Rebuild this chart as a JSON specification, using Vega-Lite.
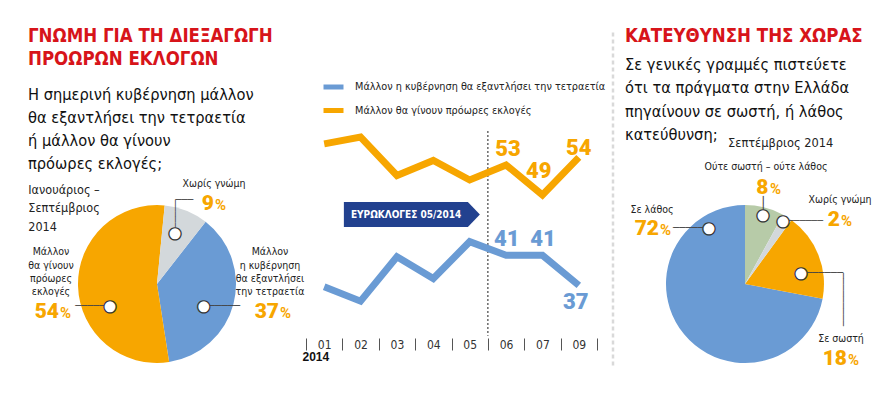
{
  "$schema": "https://vega.github.io/schema/vega-lite/v6.json",
  "background": "white",
  "padding": {"left": 8, "top": 26, "right": 2, "bottom": 2},
  "bounds": "flush",
  "spacing": 0,
  "resolve": {"scale": {"color": "independent", "theta": "independent"}, "legend": {"color": "independent"}},
  "config": {
    "view": {"stroke": null},
    "text": {"font": "Liberation Sans Narrow, DejaVu Sans Condensed, sans-serif"}
  },
  "datasets": {
    "gov": [
      {"key": "gov", "category": "Μάλλον η κυβέρνηση θα εξαντλήσει την τετραετία", "label": "Μάλλον\nη κυβέρνηση\nθα εξαντλήσει\nτην τετραετία", "value": 37},
      {"key": "early", "category": "Μάλλον θα γίνουν πρόωρες εκλογές", "label": "Μάλλον\nθα γίνουν\nπρόωρες\nεκλογές", "value": 54},
      {"key": "none", "category": "Χωρίς γνώμη", "label": "Χωρίς γνώμη", "value": 9}
    ],
    "dir": [
      {"key": "wrong", "category": "Σε λάθος", "value": 72},
      {"key": "right", "category": "Σε σωστή", "value": 18},
      {"key": "neither", "category": "Ούτε σωστή – ούτε λάθος", "value": 8},
      {"key": "none", "category": "Χωρίς γνώμη", "value": 2}
    ],
    "trend": [
      {"month": "01", "series": "Μάλλον η κυβέρνηση θα εξαντλήσει την τετραετία", "value": 36.8},
      {"month": "02", "series": "Μάλλον η κυβέρνηση θα εξαντλήσει την τετραετία", "value": 34.9},
      {"month": "03", "series": "Μάλλον η κυβέρνηση θα εξαντλήσει την τετραετία", "value": 40.8},
      {"month": "04", "series": "Μάλλον η κυβέρνηση θα εξαντλήσει την τετραετία", "value": 37.9},
      {"month": "05", "series": "Μάλλον η κυβέρνηση θα εξαντλήσει την τετραετία", "value": 42.8},
      {"month": "06", "series": "Μάλλον η κυβέρνηση θα εξαντλήσει την τετραετία", "value": 41},
      {"month": "07", "series": "Μάλλον η κυβέρνηση θα εξαντλήσει την τετραετία", "value": 41},
      {"month": "09", "series": "Μάλλον η κυβέρνηση θα εξαντλήσει την τετραετία", "value": 37},
      {"month": "01", "series": "Μάλλον θα γίνουν πρόωρες εκλογές", "value": 55.8},
      {"month": "02", "series": "Μάλλον θα γίνουν πρόωρες εκλογές", "value": 56.7},
      {"month": "03", "series": "Μάλλον θα γίνουν πρόωρες εκλογές", "value": 51.6},
      {"month": "04", "series": "Μάλλον θα γίνουν πρόωρες εκλογές", "value": 53.6},
      {"month": "05", "series": "Μάλλον θα γίνουν πρόωρες εκλογές", "value": 51},
      {"month": "06", "series": "Μάλλον θα γίνουν πρόωρες εκλογές", "value": 53},
      {"month": "07", "series": "Μάλλον θα γίνουν πρόωρες εκλογές", "value": 49},
      {"month": "09", "series": "Μάλλον θα γίνουν πρόωρες εκλογές", "value": 54}
    ]
  },
  "hconcat": [
    {
      "width": 298,
      "height": 208,
      "data": {"name": "gov"},
      "title": {
        "text": ["ΓΝΩΜΗ ΓΙΑ ΤΗ ΔΙΕΞΑΓΩΓΗ", "ΠΡΟΩΡΩΝ ΕΚΛΟΓΩΝ"],
        "subtitle": ["Η σημερινή κυβέρνηση μάλλον", "θα εξαντλήσει την τετραετία", "ή μάλλον θα γίνουν", "πρόωρες εκλογές;"],
        "anchor": "start", "frame": "group", "dx": 20, "dy": -5, "offset": 1.5,
        "font": "Liberation Sans Narrow, DejaVu Sans Condensed, sans-serif", "fontSize": 18.5, "fontWeight": "bold", "color": "#d7141a", "lineHeight": 23.3,
        "subtitleFont": "Liberation Sans Narrow, DejaVu Sans Condensed, sans-serif", "subtitleFontSize": 16.3, "subtitleColor": "#111", "subtitleLineHeight": 23.2, "subtitlePadding": 18.6
      },
      "layer": [
        {
          "mark": {"type": "arc", "outerRadius": 79},
          "encoding": {
            "theta": {"field": "value", "type": "quantitative", "stack": true, "scale": {"range": [0.6629, 6.9461]}},
            "order": {"field": "category", "type": "nominal", "sort": "ascending"},
            "color": {"field": "category", "type": "nominal", "legend": null,
              "scale": {"domain": ["Μάλλον η κυβέρνηση θα εξαντλήσει την τετραετία", "Μάλλον θα γίνουν πρόωρες εκλογές", "Χωρίς γνώμη"], "range": ["#6a9bd4", "#f7a600", "#d3d8db"]}}
          }
        },
        {
          "data": {"values": [{"period": "Ιανουάριος –\nΣεπτέμβριος\n2014"}]},
          "mark": {"type": "text", "lineBreak": "\n", "align": "left", "baseline": "top", "dx": -128.7, "dy": -100, "fontSize": 12.5, "lineHeight": 18.3, "color": "#222"},
          "encoding": {"text": {"field": "period"}}
        },
        {"transform": [{"filter": "datum.key == 'gov'"}], "mark": {"type": "text", "lineBreak": "\n", "align": "center", "baseline": "top", "dx": 113, "dy": -36.7, "fontSize": 10.5, "lineHeight": 13.3, "color": "#222"}, "encoding": {"text": {"field": "label"}}},
        {"transform": [{"filter": "datum.key == 'early'"}], "mark": {"type": "text", "lineBreak": "\n", "align": "center", "baseline": "top", "dx": -106, "dy": -36.7, "fontSize": 10.5, "lineHeight": 13.3, "color": "#222"}, "encoding": {"text": {"field": "label"}}},
        {"transform": [{"filter": "datum.key == 'none'"}], "mark": {"type": "text", "align": "center", "baseline": "top", "dx": 57, "dy": -104.7, "fontSize": 10.5, "color": "#222"}, "encoding": {"text": {"field": "label"}}},
        {"transform": [{"filter": "datum.key == 'gov'"}], "mark": {"type": "text", "font": "Roboto", "fontWeight": 900, "fontSize": 21, "align": "right", "baseline": "alphabetic", "dx": 122, "dy": 34, "color": "#f7a600"}, "encoding": {"text": {"field": "value", "type": "quantitative", "format": "d"}}},
        {"transform": [{"filter": "datum.key == 'gov'"}], "mark": {"type": "text", "font": "Roboto", "fontWeight": "bold", "fontSize": 15, "align": "left", "baseline": "alphabetic", "dx": 123, "dy": 34, "color": "#f7a600"}, "encoding": {"text": {"value": "%"}}},
        {"transform": [{"filter": "datum.key == 'early'"}], "mark": {"type": "text", "font": "Roboto", "fontWeight": 900, "fontSize": 21, "align": "right", "baseline": "alphabetic", "dx": -98, "dy": 34, "color": "#f7a600"}, "encoding": {"text": {"field": "value", "type": "quantitative", "format": "d"}}},
        {"transform": [{"filter": "datum.key == 'early'"}], "mark": {"type": "text", "font": "Roboto", "fontWeight": "bold", "fontSize": 15, "align": "left", "baseline": "alphabetic", "dx": -97, "dy": 34, "color": "#f7a600"}, "encoding": {"text": {"value": "%"}}},
        {"transform": [{"filter": "datum.key == 'none'"}], "mark": {"type": "text", "font": "Roboto", "fontWeight": 900, "fontSize": 21, "align": "right", "baseline": "alphabetic", "dx": 57, "dy": -74, "color": "#f7a600"}, "encoding": {"text": {"field": "value", "type": "quantitative", "format": "d"}}},
        {"transform": [{"filter": "datum.key == 'none'"}], "mark": {"type": "text", "font": "Roboto", "fontWeight": "bold", "fontSize": 15, "align": "left", "baseline": "alphabetic", "dx": 58, "dy": -74, "color": "#f7a600"}, "encoding": {"text": {"value": "%"}}},
        {"transform": [{"filter": "datum.key == 'early'"}], "mark": {"type": "text", "font": "DejaVu Sans Mono", "fontSize": 10, "align": "center", "baseline": "middle", "dx": -66.7, "dy": 22, "color": "#444"}, "encoding": {"text": {"value": "─────"}}},
        {"transform": [{"filter": "datum.key == 'gov'"}], "mark": {"type": "text", "font": "DejaVu Sans Mono", "fontSize": 10.5, "align": "center", "baseline": "middle", "dx": 67.3, "dy": 22, "color": "#444"}, "encoding": {"text": {"value": "─────"}}},
        {"transform": [{"filter": "datum.key == 'none'"}], "mark": {"type": "text", "font": "DejaVu Sans Mono", "fontSize": 9.3, "angle": 90, "align": "center", "baseline": "middle", "dx": -70, "dy": -18.3, "color": "#444"}, "encoding": {"text": {"value": "─────"}}},
        {"transform": [{"filter": "datum.key == 'none'"}], "mark": {"type": "text", "font": "DejaVu Sans Mono", "fontSize": 10, "align": "center", "baseline": "middle", "dx": 27.3, "dy": -84, "color": "#444"}, "encoding": {"text": {"value": "───"}}},
        {"transform": [{"filter": "datum.key == 'gov'"}], "mark": {"type": "text", "font": "DejaVu Sans", "fontSize": 16, "fill": "white", "stroke": "#333", "strokeWidth": 1.2, "align": "center", "baseline": "middle", "dx": 46.7, "dy": 22}, "encoding": {"text": {"value": "●"}}},
        {"transform": [{"filter": "datum.key == 'early'"}], "mark": {"type": "text", "font": "DejaVu Sans", "fontSize": 16, "fill": "white", "stroke": "#333", "strokeWidth": 1.2, "align": "center", "baseline": "middle", "dx": -47, "dy": 22}, "encoding": {"text": {"value": "●"}}},
        {"transform": [{"filter": "datum.key == 'none'"}], "mark": {"type": "text", "font": "DejaVu Sans", "fontSize": 16, "fill": "white", "stroke": "#333", "strokeWidth": 1.2, "align": "center", "baseline": "middle", "dx": 18, "dy": -51}, "encoding": {"text": {"value": "●"}}}
      ]
    },
    {
      "width": 307,
      "height": 158,
      "resolve": {"axis": {"x": "independent", "y": "independent"}},
      "layer": [
        {
          "data": {"values": [{"edge": "separator"}]},
          "mark": {"type": "rule", "color": "#d9d9d9", "strokeWidth": 2.5, "strokeDash": [4, 3]},
          "encoding": {"x": {"value": "width"}, "y": {"datum": 70.6, "type": "quantitative", "axis": null}, "y2": {"datum": 26.3}}
        },
        {
          "data": {"values": [{"month": "06"}]},
          "mark": {"type": "rule", "color": "#444", "strokeWidth": 1.2, "strokeDash": [2, 2]},
          "encoding": {"x": {"field": "month", "type": "ordinal", "bandPosition": 0, "axis": null}, "y": {"datum": 57.5, "type": "quantitative", "axis": null}, "y2": {"datum": 30.3}}
        },
        {
          "data": {"name": "trend"},
          "mark": {"type": "line", "strokeWidth": 7, "strokeJoin": "miter", "strokeCap": "butt"},
          "encoding": {
            "x": {"field": "month", "type": "ordinal",
              "scale": {"type": "band", "paddingInner": 0, "paddingOuter": 0, "range": [0, 291]},
              "axis": {"title": "2014", "titleAnchor": "start", "titleAlign": "left", "titleX": -4, "titleFontWeight": "bold", "titleFont": "Liberation Sans", "titleFontSize": 12, "titleColor": "#111", "titlePadding": 1,
                "labelAngle": 0, "labelFont": "Liberation Sans Narrow, DejaVu Sans Condensed, sans-serif", "labelFontSize": 12, "labelColor": "#333", "labelPadding": -11, "labelBaseline": "top",
                "tickBand": "extent", "tickSize": 12, "tickColor": "#555", "tickWidth": 1, "domain": false, "grid": false}},
            "y": {"field": "value", "type": "quantitative", "scale": {"domain": [30, 51], "zero": false, "nice": false}, "axis": null},
            "color": {"field": "series", "type": "nominal",
              "scale": {"domain": ["Μάλλον η κυβέρνηση θα εξαντλήσει την τετραετία", "Μάλλον θα γίνουν πρόωρες εκλογές"], "range": ["#6a9bd4", "#f7a600"]},
              "legend": {"orient": "none", "legendX": 15, "legendY": -105.5, "direction": "vertical", "title": null, "symbolType": "stroke", "symbolStrokeWidth": 5, "symbolSize": 400, "labelFont": "Liberation Sans Narrow, DejaVu Sans Condensed, sans-serif", "labelFontSize": 10.8, "labelColor": "#222", "rowPadding": 0.5, "padding": 0, "labelOffset": 9, "labelLimit": 400}}
          }
        },
        {
          "data": {"values": [{"month": "06", "label": "ΕΥΡΩΚΛΟΓΕΣ 05/2014"}]},
          "mark": {"type": "point", "shape": "M-2.88,-0.254H-0.4L-0.16,0L-0.4,0.246H-2.88Z", "size": 10000, "filled": true, "color": "#22418f", "opacity": 1, "strokeWidth": 0},
          "encoding": {"x": {"field": "month", "type": "ordinal", "bandPosition": 0, "axis": null}, "y": {"datum": 46.4, "type": "quantitative", "axis": null}}
        },
        {
          "data": {"values": [{"month": "06", "label": "ΕΥΡΩΚΛΟΓΕΣ 05/2014"}]},
          "mark": {"type": "text", "align": "left", "baseline": "middle", "dx": -137, "fontSize": 10, "fontWeight": "bold", "color": "white"},
          "encoding": {"x": {"field": "month", "type": "ordinal", "bandPosition": 0, "axis": null}, "y": {"datum": 46.4, "type": "quantitative", "axis": null}, "text": {"field": "label"}}
        },
        {
          "data": {"name": "trend"},
          "transform": [{"filter": "datum.series == 'Μάλλον θα γίνουν πρόωρες εκλογές' && datum.month == '06'"}],
          "mark": {"type": "text", "font": "Roboto", "fontWeight": 900, "fontSize": 22, "align": "center", "baseline": "alphabetic", "dx": 2, "dy": -9, "color": "#f7a600"},
          "encoding": {"x": {"field": "month", "type": "ordinal", "axis": null}, "y": {"field": "value", "type": "quantitative", "axis": null}, "text": {"field": "value", "type": "quantitative", "format": "d"}}
        },
        {
          "data": {"name": "trend"},
          "transform": [{"filter": "datum.series == 'Μάλλον θα γίνουν πρόωρες εκλογές' && datum.month == '07'"}],
          "mark": {"type": "text", "font": "Roboto", "fontWeight": 900, "fontSize": 22, "align": "center", "baseline": "alphabetic", "dx": -3.6, "dy": -17, "color": "#f7a600"},
          "encoding": {"x": {"field": "month", "type": "ordinal", "axis": null}, "y": {"field": "value", "type": "quantitative", "axis": null}, "text": {"field": "value", "type": "quantitative", "format": "d"}}
        },
        {
          "data": {"name": "trend"},
          "transform": [{"filter": "datum.series == 'Μάλλον θα γίνουν πρόωρες εκλογές' && datum.month == '09'"}],
          "mark": {"type": "text", "font": "Roboto", "fontWeight": 900, "fontSize": 22, "align": "center", "baseline": "alphabetic", "dx": 0, "dy": -2.5, "color": "#f7a600"},
          "encoding": {"x": {"field": "month", "type": "ordinal", "axis": null}, "y": {"field": "value", "type": "quantitative", "axis": null}, "text": {"field": "value", "type": "quantitative", "format": "d"}}
        },
        {
          "data": {"name": "trend"},
          "transform": [{"filter": "datum.series == 'Μάλλον η κυβέρνηση θα εξαντλήσει την τετραετία' && (datum.month == '06' || datum.month == '07')"}],
          "mark": {"type": "text", "font": "Roboto", "fontWeight": 900, "fontSize": 22, "align": "center", "baseline": "alphabetic", "dx": 0.6, "dy": -9, "color": "#6a9bd4"},
          "encoding": {"x": {"field": "month", "type": "ordinal", "axis": null}, "y": {"field": "value", "type": "quantitative", "axis": null}, "text": {"field": "value", "type": "quantitative", "format": "d"}}
        },
        {
          "data": {"name": "trend"},
          "transform": [{"filter": "datum.series == 'Μάλλον η κυβέρνηση θα εξαντλήσει την τετραετία' && datum.month == '09'"}],
          "mark": {"type": "text", "font": "Roboto", "fontWeight": 900, "fontSize": 22, "align": "center", "baseline": "alphabetic", "dx": -3, "dy": 23.6, "color": "#6a9bd4"},
          "encoding": {"x": {"field": "month", "type": "ordinal", "axis": null}, "y": {"field": "value", "type": "quantitative", "axis": null}, "text": {"field": "value", "type": "quantitative", "format": "d"}}
        }
      ]
    },
    {
      "width": 264,
      "height": 208,
      "data": {"name": "dir"},
      "title": {
        "text": "ΚΑΤΕΥΘΥΝΣΗ ΤΗΣ ΧΩΡΑΣ",
        "subtitle": ["Σε γενικές γραμμές πιστεύετε", "ότι τα πράγματα στην Ελλάδα", "πηγαίνουν σε σωστή, ή λάθος", "κατεύθυνση;"],
        "anchor": "start", "frame": "group", "dx": 12, "dy": -5, "offset": -11.2,
        "font": "Liberation Sans Narrow, DejaVu Sans Condensed, sans-serif", "fontSize": 18.5, "fontWeight": "bold", "color": "#d7141a", "lineHeight": 23.3,
        "subtitleFont": "Liberation Sans Narrow, DejaVu Sans Condensed, sans-serif", "subtitleFontSize": 16.3, "subtitleColor": "#111", "subtitleLineHeight": 23.4, "subtitlePadding": 11.2
      },
      "layer": [
        {
          "mark": {"type": "arc", "outerRadius": 79},
          "encoding": {
            "theta": {"field": "value", "type": "quantitative", "stack": true, "scale": {"range": [0.50265, 6.78584]}},
            "order": {"field": "category", "type": "nominal", "sort": "descending"},
            "color": {"field": "category", "type": "nominal", "legend": null,
              "scale": {"domain": ["Σε λάθος", "Σε σωστή", "Ούτε σωστή – ούτε λάθος", "Χωρίς γνώμη"], "range": ["#6a9bd4", "#f7a600", "#b7cba8", "#d3d8db"]}}
          }
        },
        {
          "data": {"values": [{"period": "Σεπτέμβριος 2014"}]},
          "mark": {"type": "text", "align": "left", "baseline": "top", "dx": -17, "dy": -146.9, "fontSize": 12.7, "color": "#222"},
          "encoding": {"text": {"field": "period"}}
        },
        {"transform": [{"filter": "datum.key == 'wrong'"}], "mark": {"type": "text", "align": "center", "baseline": "top", "dx": -93, "dy": -78.7, "fontSize": 10.5, "color": "#222"}, "encoding": {"text": {"field": "category"}}},
        {"transform": [{"filter": "datum.key == 'right'"}], "mark": {"type": "text", "align": "center", "baseline": "top", "dx": 96, "dy": 50, "fontSize": 10.5, "color": "#222"}, "encoding": {"text": {"field": "category"}}},
        {"transform": [{"filter": "datum.key == 'neither'"}], "mark": {"type": "text", "align": "center", "baseline": "top", "dx": 21, "dy": -121.7, "fontSize": 10.5, "color": "#222"}, "encoding": {"text": {"field": "category"}}},
        {"transform": [{"filter": "datum.key == 'none'"}], "mark": {"type": "text", "align": "center", "baseline": "top", "dx": 95, "dy": -88.7, "fontSize": 10.5, "color": "#222"}, "encoding": {"text": {"field": "category"}}},
        {"transform": [{"filter": "datum.key == 'wrong'"}], "mark": {"type": "text", "font": "Roboto", "fontWeight": 900, "fontSize": 21, "align": "right", "baseline": "alphabetic", "dx": -86, "dy": -49.3, "color": "#f7a600"}, "encoding": {"text": {"field": "value", "type": "quantitative", "format": "d"}}},
        {"transform": [{"filter": "datum.key == 'wrong'"}], "mark": {"type": "text", "font": "Roboto", "fontWeight": "bold", "fontSize": 15, "align": "left", "baseline": "alphabetic", "dx": -85, "dy": -49.3, "color": "#f7a600"}, "encoding": {"text": {"value": "%"}}},
        {"transform": [{"filter": "datum.key == 'right'"}], "mark": {"type": "text", "font": "Roboto", "fontWeight": 900, "fontSize": 21, "align": "right", "baseline": "alphabetic", "dx": 102, "dy": 80.7, "color": "#f7a600"}, "encoding": {"text": {"field": "value", "type": "quantitative", "format": "d"}}},
        {"transform": [{"filter": "datum.key == 'right'"}], "mark": {"type": "text", "font": "Roboto", "fontWeight": "bold", "fontSize": 15, "align": "left", "baseline": "alphabetic", "dx": 103, "dy": 80.7, "color": "#f7a600"}, "encoding": {"text": {"value": "%"}}},
        {"transform": [{"filter": "datum.key == 'neither'"}], "mark": {"type": "text", "font": "Roboto", "fontWeight": 900, "fontSize": 21, "align": "right", "baseline": "alphabetic", "dx": 23.5, "dy": -90.5, "color": "#f7a600"}, "encoding": {"text": {"field": "value", "type": "quantitative", "format": "d"}}},
        {"transform": [{"filter": "datum.key == 'neither'"}], "mark": {"type": "text", "font": "Roboto", "fontWeight": "bold", "fontSize": 15, "align": "left", "baseline": "alphabetic", "dx": 25, "dy": -90.5, "color": "#f7a600"}, "encoding": {"text": {"value": "%"}}},
        {"transform": [{"filter": "datum.key == 'none'"}], "mark": {"type": "text", "font": "Roboto", "fontWeight": 900, "fontSize": 21, "align": "right", "baseline": "alphabetic", "dx": 95, "dy": -57.7, "color": "#f7a600"}, "encoding": {"text": {"field": "value", "type": "quantitative", "format": "d"}}},
        {"transform": [{"filter": "datum.key == 'none'"}], "mark": {"type": "text", "font": "Roboto", "fontWeight": "bold", "fontSize": 15, "align": "left", "baseline": "alphabetic", "dx": 96, "dy": -57.7, "color": "#f7a600"}, "encoding": {"text": {"value": "%"}}},
        {"transform": [{"filter": "datum.key == 'wrong'"}], "mark": {"type": "text", "font": "DejaVu Sans Mono", "fontSize": 10.3, "align": "center", "baseline": "middle", "dx": -56.5, "dy": -56, "color": "#444"}, "encoding": {"text": {"value": "─────"}}},
        {"transform": [{"filter": "datum.key == 'none'"}], "mark": {"type": "text", "font": "DejaVu Sans Mono", "fontSize": 9.7, "align": "center", "baseline": "middle", "dx": 60.5, "dy": -63, "color": "#444"}, "encoding": {"text": {"value": "──────"}}},
        {"transform": [{"filter": "datum.key == 'neither'"}], "mark": {"type": "text", "font": "DejaVu Sans Mono", "fontSize": 11.7, "angle": 90, "align": "center", "baseline": "middle", "dx": -81, "dy": -18, "color": "#444"}, "encoding": {"text": {"value": "──"}}},
        {"transform": [{"filter": "datum.key == 'right'"}], "mark": {"type": "text", "font": "DejaVu Sans Mono", "fontSize": 10.3, "align": "center", "baseline": "middle", "dx": 79.5, "dy": -11, "color": "#444"}, "encoding": {"text": {"value": "──────"}}},
        {"transform": [{"filter": "datum.key == 'right'"}], "mark": {"type": "text", "font": "DejaVu Sans Mono", "fontSize": 9.8, "angle": 90, "align": "center", "baseline": "middle", "dx": 15.5, "dy": -98, "color": "#444"}, "encoding": {"text": {"value": "─────────"}}},
        {"transform": [{"filter": "datum.key == 'wrong'"}], "mark": {"type": "text", "font": "DejaVu Sans", "fontSize": 16, "fill": "white", "stroke": "#333", "strokeWidth": 1.2, "align": "center", "baseline": "middle", "dx": -36, "dy": -56}, "encoding": {"text": {"value": "●"}}},
        {"transform": [{"filter": "datum.key == 'right'"}], "mark": {"type": "text", "font": "DejaVu Sans", "fontSize": 16, "fill": "white", "stroke": "#333", "strokeWidth": 1.2, "align": "center", "baseline": "middle", "dx": 56, "dy": -11}, "encoding": {"text": {"value": "●"}}},
        {"transform": [{"filter": "datum.key == 'neither'"}], "mark": {"type": "text", "font": "DejaVu Sans", "fontSize": 16, "fill": "white", "stroke": "#333", "strokeWidth": 1.2, "align": "center", "baseline": "middle", "dx": 18, "dy": -69}, "encoding": {"text": {"value": "●"}}},
        {"transform": [{"filter": "datum.key == 'none'"}], "mark": {"type": "text", "font": "DejaVu Sans", "fontSize": 16, "fill": "white", "stroke": "#333", "strokeWidth": 1.2, "align": "center", "baseline": "middle", "dx": 38, "dy": -63}, "encoding": {"text": {"value": "●"}}}
      ]
    }
  ]
}
